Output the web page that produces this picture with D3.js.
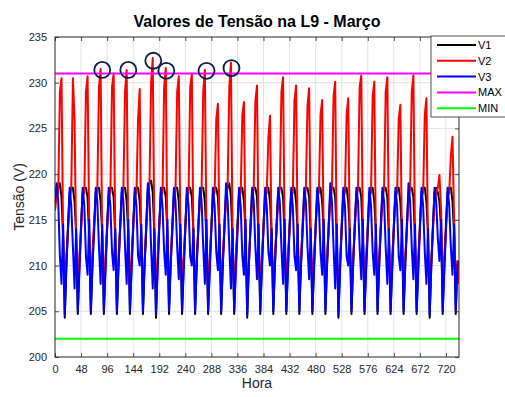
<!DOCTYPE html>
<html>
<head>
<meta charset="utf-8">
<script src="https://cdn.jsdelivr.net/npm/d3@7/dist/d3.min.js"></script>
<style>
  body { margin: 0; background: #fff; }
  text { font-family: "Liberation Sans", Arial, sans-serif; }
</style>
</head>
<body>
<div id="chart"></div>
<script>
// samples every 3 hours (h0,h3,...,h21) for each day of March, plus the final point at hour 744
var sampleStep = 3;

var v1Days = [
  [217, 218.5, 218.5, 219, 217.5, 213, 204.3, 210],
  [214.5, 218, 218.5, 218.5, 217, 213.5, 204.7, 210],
  [214.5, 218, 218.5, 218.5, 217.5, 213, 204.7, 210],
  [214.5, 218, 218.5, 218.5, 217, 213.5, 204.7, 210],
  [214.5, 218, 218.5, 218.5, 217.5, 213, 204.7, 210],
  [214.5, 218, 218.5, 218.5, 217, 213.5, 204.7, 210],
  [214.5, 218, 218.5, 218.5, 217, 213, 204.7, 210],
  [214.5, 218.5, 219, 219.3, 218, 213.5, 204.3, 210],
  [214.5, 218, 218.5, 218.5, 217.5, 213.5, 204.7, 210],
  [214.5, 218, 218.5, 218.5, 217, 213, 204.7, 210],
  [214.5, 218, 218.5, 218.5, 217.5, 213.5, 204.7, 210],
  [214.5, 218, 218.5, 218.5, 217, 213, 204.7, 210],
  [214.5, 218, 218.5, 218.5, 217.5, 213.5, 204.7, 210],
  [214.5, 218, 218.5, 219, 217.5, 213, 204.7, 210],
  [214.5, 218, 218.5, 218.5, 217, 213.5, 204.3, 210],
  [214.5, 218, 218.5, 218.5, 217.5, 213, 204.7, 210],
  [214.5, 218, 218.5, 218.5, 217, 213.5, 204.7, 210],
  [214.5, 218, 218.5, 218.5, 217.5, 213, 204.7, 210],
  [214.5, 218, 218.5, 218.5, 217, 213.5, 204.7, 210],
  [214.5, 218, 218.5, 218.5, 217.5, 213, 204.7, 210],
  [214.5, 218, 218.5, 218.5, 217, 213.5, 204.7, 210],
  [214.5, 218, 218.5, 218.5, 217.5, 213, 204.3, 210],
  [214.5, 218, 218.5, 218.5, 217, 213.5, 204.7, 210],
  [214.5, 218, 218.5, 218.5, 217.5, 213, 204.7, 210],
  [214.5, 218, 218.5, 218.5, 217, 213.5, 204.7, 210],
  [214.5, 218, 218.5, 218.5, 217.5, 213, 204.7, 210],
  [214.5, 218, 218.5, 218.5, 217, 213.5, 204.7, 210],
  [214.5, 218, 218.5, 218.5, 217.5, 213, 204.7, 210],
  [214.5, 218, 218.5, 218.5, 217, 213.5, 204.3, 210],
  [214.5, 218, 218.5, 218, 217, 214, 204.7, 210],
  [214.5, 218, 218.5, 218.5, 217, 213.5, 204.7, 210]
];
var v1End = 210;

var v2Days = [
  [216, 217.5, 218, 229, 230.5, 213, 207.5, 211],
  [214, 217, 218.5, 230.5, 226, 212, 207.5, 211],
  [214, 217.5, 218, 229, 230.7, 214, 208, 211.5],
  [214.5, 217, 218.5, 229.5, 231.5, 212, 207.5, 211],
  [214, 217.5, 218, 229.5, 231.0, 213, 207.5, 211],
  [214, 217, 218.5, 229, 231.4, 212, 208, 211],
  [214, 217.5, 218, 226, 229.3, 211, 207.5, 210.5],
  [214, 217, 219, 230, 232.7, 213, 207, 211],
  [214.5, 217.5, 218, 229.5, 231.6, 212, 207.5, 211],
  [214, 217, 218.5, 229, 230.7, 213, 208, 211],
  [214, 217.5, 218, 229.5, 231.0, 212, 207.5, 211],
  [214, 217, 218.5, 229, 231.4, 213, 207.5, 211],
  [214, 217.5, 218, 226, 227.7, 212, 208, 211],
  [214, 217, 219, 229.5, 232.2, 213, 207.5, 211],
  [214, 217.5, 218, 226.5, 227.9, 211, 207, 210.5],
  [214, 217, 218.5, 228, 229.7, 212, 207.5, 211],
  [214, 217.5, 218, 224, 226.4, 212, 208, 211],
  [214, 217, 218.5, 229, 230.6, 213, 207.5, 211],
  [214, 217.5, 218, 228, 229.7, 212, 207.5, 211],
  [214, 217, 218.5, 227.5, 229.4, 213, 208, 211],
  [214, 217.5, 218, 226.5, 228.1, 212, 207.5, 211],
  [214, 217, 218.5, 228.5, 230.1, 211, 207, 210.5],
  [214, 217.5, 218, 226.5, 228.3, 212, 207.5, 211],
  [214, 217, 218.5, 229.5, 230.8, 213, 208, 211],
  [214, 217.5, 218, 228.5, 230.1, 212, 207.5, 211],
  [214, 217, 218.5, 229, 230.6, 213, 207.5, 211],
  [214, 217.5, 218, 226, 227.6, 212, 208, 211],
  [214, 217, 218.5, 229, 230.8, 213, 207.5, 211],
  [214, 217.5, 218, 226.5, 228.3, 211, 207, 210.5],
  [214, 217, 218, 218.5, 219.9, 216, 208, 211],
  [214, 217.5, 218, 222, 224.1, 215, 208, 210.5]
];
var v2End = 208;

var v3Days = [
  [217, 219, 217, 211, 208, 214.5, 204.6, 210],
  [214, 218.5, 216.5, 212, 207.5, 214, 205, 209.5],
  [214, 218.5, 216.5, 211, 209, 215, 205, 210],
  [213.5, 218.5, 217, 212, 208, 214.5, 205, 209.5],
  [214, 218.5, 216.5, 211.5, 209.5, 214, 205, 210],
  [214, 218.5, 217, 212, 208, 215, 205, 209.5],
  [214, 218.5, 216.5, 211, 210, 214.5, 205, 210],
  [214, 219, 217.5, 212, 207.5, 214, 204.6, 209.5],
  [214, 218.5, 216.5, 211.5, 209, 215, 205, 210],
  [213.5, 218.5, 217, 212, 208.5, 214.5, 205, 209.5],
  [214, 218.5, 216.5, 211, 210, 214, 205, 210],
  [214, 218.5, 217, 212, 208, 215, 205, 209.5],
  [214, 218.5, 216.5, 211.5, 209.5, 214.5, 205, 210],
  [214, 219, 217, 212, 207.5, 214, 205, 209.5],
  [213.5, 218.5, 216.5, 211, 209, 215, 204.6, 210],
  [214, 218.5, 217, 212, 208.5, 214.5, 205, 209.5],
  [214, 218.5, 216.5, 211.5, 210, 214, 205, 210],
  [214, 218.5, 217, 212, 208, 215, 205, 209.5],
  [214, 218.5, 216.5, 211, 209.5, 214.5, 205, 210],
  [213.5, 218.5, 217, 212, 208.5, 214, 205, 209.5],
  [214, 218.5, 216.5, 211.5, 209, 215, 205, 210],
  [214, 219, 217, 212, 207.5, 214.5, 204.6, 209.5],
  [214, 218.5, 216.5, 211, 210, 214, 205, 210],
  [214, 218.5, 217, 212, 208.5, 215, 205, 209.5],
  [213.5, 218.5, 216.5, 211.5, 209, 214.5, 205, 210],
  [214, 218.5, 217, 212, 208, 214, 205, 209.5],
  [214, 218.5, 216.5, 211, 209.5, 215, 205, 210],
  [214, 219, 217, 212, 208.5, 214.5, 205, 209.5],
  [214, 218.5, 216.5, 211.5, 208, 214, 204.6, 210],
  [214, 218.5, 217, 213, 210.5, 215, 205, 209.5],
  [214, 218.5, 216.5, 212, 209, 214.5, 205, 210]
];
var v3End = 210.5;

var maxLimit = 231;
var minLimit = 202;

// peaks marked with circles on the original figure
var circleHours = [87, 135, 181, 205, 279, 325];
var circleValues = [231.4, 231.4, 232.4, 231.3, 231.3, 231.6];

var xTicks = [0, 48, 96, 144, 192, 240, 288, 336, 384, 432, 480, 528, 576, 624, 672, 720];
var yTicks = [200, 205, 210, 215, 220, 225, 230, 235];

var seriesNames = ["V1", "V2", "V3", "MAX", "MIN"];
var seriesColors = ["#000000", "#ff0000", "#0000ff", "#ff00ff", "#00ff00"];

function toPoints(days, endValue) {
  var pts = [];
  days.forEach(function(row, d) {
    row.forEach(function(v, k) {
      pts.push({hour: d * 24 + k * sampleStep, value: v});
    });
  });
  pts.push({hour: days.length * 24, value: endValue});
  return pts;
}

var margin = {top: 37, right: 46, bottom: 40, left: 55};
var totalW = 505, totalH = 397;
var width = totalW - margin.left - margin.right;
var height = totalH - margin.top - margin.bottom;
var axisColor = "#262626";

var svg = d3.select("#chart").append("svg")
  .attr("width", totalW)
  .attr("height", totalH);

var g = svg.append("g")
  .attr("transform", "translate(" + margin.left + "," + margin.top + ")");

var x = d3.scaleLinear().domain([0, 744]).range([0, width]);
var y = d3.scaleLinear().domain([200, 235]).range([height, 0]);

g.append("defs").append("clipPath")
  .attr("id", "clip")
  .append("rect")
  .attr("width", width)
  .attr("height", height);

// grid
g.append("g").selectAll("line.vg")
  .data(xTicks.slice(1))
  .enter().append("line")
  .attr("x1", function(d) { return x(d); })
  .attr("x2", function(d) { return x(d); })
  .attr("y1", 0).attr("y2", height)
  .attr("stroke", "#e3e3e3").attr("stroke-width", 1);

g.append("g").selectAll("line.hg")
  .data(yTicks.slice(1, -1))
  .enter().append("line")
  .attr("y1", function(d) { return y(d); })
  .attr("y2", function(d) { return y(d); })
  .attr("x1", 0).attr("x2", width)
  .attr("stroke", "#e3e3e3").attr("stroke-width", 1);

var line = d3.line()
  .x(function(d) { return x(d.hour); })
  .y(function(d) { return y(d.value); })
  .curve(d3.curveLinear);

var plot = g.append("g").attr("clip-path", "url(#clip)");

var allSeries = [
  toPoints(v1Days, v1End),
  toPoints(v2Days, v2End),
  toPoints(v3Days, v3End),
  [{hour: 0, value: maxLimit}, {hour: 744, value: maxLimit}],
  [{hour: 0, value: minLimit}, {hour: 744, value: minLimit}]
];

plot.selectAll(".series")
  .data(allSeries)
  .enter().append("path")
  .attr("class", "series")
  .attr("d", function(d) { return line(d); })
  .attr("fill", "none")
  .attr("stroke", function(d, i) { return seriesColors[i]; })
  .attr("stroke-width", 2)
  .attr("stroke-linejoin", "round");

// circles
g.selectAll(".mark")
  .data(circleHours)
  .enter().append("circle")
  .attr("class", "mark")
  .attr("cx", function(d) { return x(d); })
  .attr("cy", function(d, i) { return y(circleValues[i]); })
  .attr("r", 8)
  .attr("fill", "none")
  .attr("stroke", "#0c1d4a")
  .attr("stroke-width", 1.8);

// axes (MATLAB style box with inward ticks)
var xAxis = d3.axisBottom(x).tickValues(xTicks).tickSize(-4).tickPadding(8);
var yAxis = d3.axisLeft(y).tickValues(yTicks).tickSize(-4).tickPadding(8);
var xAxisTop = d3.axisTop(x).tickValues(xTicks).tickSize(-4).tickFormat("");
var yAxisRight = d3.axisRight(y).tickValues(yTicks).tickSize(-4).tickFormat("");

function styleAxis(sel) {
  sel.select(".domain").remove();
  sel.selectAll("line").attr("stroke", axisColor).attr("stroke-width", 0.8);
  sel.selectAll("text").attr("fill", axisColor).style("font-size", "11px");
}

g.append("g").attr("transform", "translate(0," + height + ")").call(xAxis).call(styleAxis);
g.append("g").call(yAxis).call(styleAxis);
g.append("g").call(xAxisTop).call(styleAxis);
g.append("g").attr("transform", "translate(" + width + ",0)").call(yAxisRight).call(styleAxis);

g.append("rect")
  .attr("width", width).attr("height", height)
  .attr("fill", "none").attr("stroke", axisColor).attr("stroke-width", 1);

// labels
svg.append("text")
  .attr("x", margin.left + width / 2).attr("y", 27)
  .attr("text-anchor", "middle")
  .style("font-size", "16px").style("font-weight", "bold")
  .attr("fill", "#000")
  .text("Valores de Tensão na L9 - Março");

svg.append("text")
  .attr("x", margin.left + width / 2).attr("y", 388)
  .attr("text-anchor", "middle")
  .style("font-size", "14px")
  .attr("fill", axisColor)
  .text("Hora");

svg.append("text")
  .attr("transform", "translate(24," + (margin.top + height / 2) + ") rotate(-90)")
  .attr("text-anchor", "middle")
  .style("font-size", "14px")
  .attr("fill", axisColor)
  .text("Tensão (V)");

// legend
var legend = svg.append("g").attr("transform", "translate(431,36)");
legend.append("rect")
  .attr("width", 90).attr("height", 81)
  .attr("fill", "#fff").attr("stroke", axisColor).attr("stroke-width", 0.8);

var items = legend.selectAll(".item")
  .data(seriesNames)
  .enter().append("g")
  .attr("transform", function(d, i) { return "translate(0," + (9 + i * 15.8) + ")"; });

items.append("line")
  .attr("x1", 6).attr("x2", 45)
  .attr("stroke", function(d, i) { return seriesColors[i]; })
  .attr("stroke-width", 2);

items.append("text")
  .attr("x", 47).attr("y", 4)
  .style("font-size", "11px")
  .attr("fill", "#000")
  .text(function(d) { return d; });
</script>
</body>
</html>
